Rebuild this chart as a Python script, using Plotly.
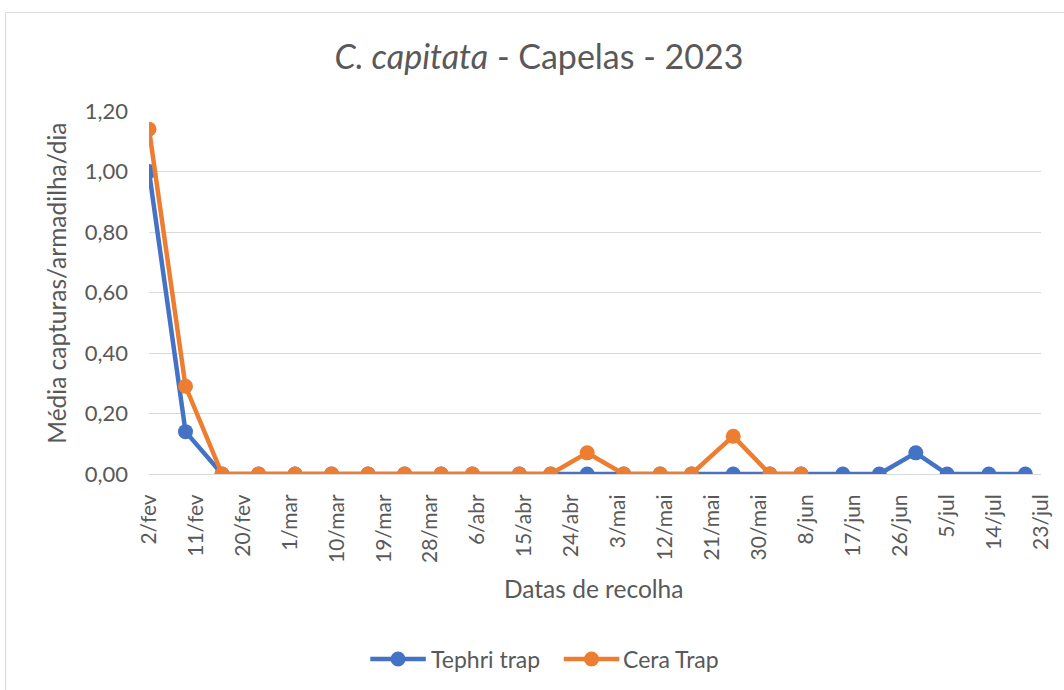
import pandas as pd
import plotly.graph_objects as go

# collection dates (2023)
dates = [
    "2023-02-02", "2023-02-09", "2023-02-16", "2023-02-23", "2023-03-02",
    "2023-03-09", "2023-03-16", "2023-03-23", "2023-03-30", "2023-04-05",
    "2023-04-14", "2023-04-20", "2023-04-27", "2023-05-04", "2023-05-11",
    "2023-05-17", "2023-05-25", "2023-06-01", "2023-06-07", "2023-06-15",
    "2023-06-22", "2023-06-29", "2023-07-05", "2023-07-13", "2023-07-20",
]
tephri = [
    1.00, 0.14, 0, 0, 0,
    0, 0, 0, 0, 0,
    0, 0, 0, 0, 0,
    0, 0, 0, 0, 0,
    0, 0.07, 0, 0, 0,
]
cera = [
    1.14, 0.29, 0, 0, 0,
    0, 0, 0, 0, 0,
    0, 0, 0.07, 0, 0,
    0, 0.125, 0, 0, None,
    None, None, None, None, None,
]
series_names = ["Tephri trap", "Cera Trap"]
series_colors = ["#4472C4", "#ED7D31"]
tick_labels = [
    "2/fev", "11/fev", "20/fev", "1/mar", "10/mar", "19/mar", "28/mar",
    "6/abr", "15/abr", "24/abr", "3/mai", "12/mai", "21/mai", "30/mai",
    "8/jun", "17/jun", "26/jun", "5/jul", "14/jul", "23/jul",
]
y_ticks = [0, 0.2, 0.4, 0.6, 0.8, 1.0, 1.2]
y_labels = ["0,00", "0,20", "0,40", "0,60", "0,80", "1,00", "1,20"]

tick_vals = pd.date_range("2023-02-02", periods=len(tick_labels), freq="9D")

FONT = "Lato"
GREY = "#595959"
W, H = 1064, 690
L, R, T, B = 149, 16, 111, 216

fig = go.Figure()
for name, ys, col in zip(series_names, [tephri, cera], series_colors):
    fig.add_trace(go.Scatter(
        x=dates, y=ys, name=name, mode="lines+markers",
        line=dict(color=col, width=4.5), marker=dict(size=15, color=col),
        connectgaps=False, showlegend=False,
    ))

pw = W - L - R
ph = H - T - B


def px_x(x):
    return (x - L) / pw


def px_y(y):
    return (H - B - y) / ph


# hand-drawn legend, Excel style (long line with centred marker)
legend_y = 659
legend_items = [(372, 428, 400, 433), (567, 623, 595, 627)]
shapes = [
    dict(type="rect", xref="paper", yref="paper",
         x0=px_x(4.5), x1=px_x(1075), y0=px_y(700), y1=px_y(12.5),
         line=dict(color="#D9D9D9", width=1), fillcolor="rgba(0,0,0,0)", layer="below"),
]
annotations = [
    dict(text="Datas de recolha", x=px_x(597), y=px_y(588),
         xref="paper", yref="paper", showarrow=False,
         font=dict(size=24.5, color=GREY), xanchor="center", yanchor="middle"),
    dict(text="Média capturas/armadilha/dia", x=px_x(55), y=px_y(283),
         xref="paper", yref="paper", showarrow=False, textangle=-90,
         font=dict(size=24.5, color=GREY), xanchor="center", yanchor="middle"),
]
for (x0, x1, xm, xt), name, col in zip(legend_items, series_names, series_colors):
    shapes.append(dict(type="line", xref="paper", yref="paper",
                       x0=px_x(x0), x1=px_x(x1), y0=px_y(legend_y), y1=px_y(legend_y),
                       line=dict(color=col, width=4.5)))
    shapes.append(dict(type="circle", xref="paper", yref="paper",
                       xsizemode="pixel", ysizemode="pixel",
                       xanchor=px_x(xm), yanchor=px_y(legend_y),
                       x0=-7.5, x1=7.5, y0=-7.5, y1=7.5,
                       line=dict(width=0), fillcolor=col))
    annotations.append(dict(text=name, x=px_x(xt), y=px_y(legend_y),
                            xref="paper", yref="paper", showarrow=False,
                            font=dict(size=23, color=GREY),
                            xanchor="left", yanchor="middle", xshift=-2))

fig.update_layout(
    width=W, height=H,
    margin=dict(l=L, r=R, t=T, b=B),
    paper_bgcolor="white", plot_bgcolor="white",
    font=dict(family=FONT, color=GREY, size=22),
    title=dict(
        text="<i>C. capitata</i> - Capelas - 2023",
        x=px_x(542), xanchor="center", xref="paper",
        y=1 - 57 / H, yanchor="middle", yref="container",
        font=dict(family=FONT, size=34, color=GREY),
    ),
    showlegend=False,
    xaxis=dict(
        type="date", range=["2023-02-02", "2023-07-23"],
        tickvals=tick_vals, ticktext=tick_labels, tickangle=-90,
        showgrid=False, showline=True, linecolor="#D9D9D9", linewidth=1,
        ticks="", zeroline=False, tickfont=dict(size=21, color=GREY),
        ticklabelstandoff=11,
    ),
    yaxis=dict(
        range=[0, 1.2], tickvals=y_ticks, ticktext=y_labels,
        showgrid=True, gridcolor="#D9D9D9", gridwidth=1,
        zeroline=False, showline=False, ticks="",
        tickfont=dict(size=22, color=GREY), ticklabelstandoff=20,
    ),
    annotations=annotations,
    shapes=shapes,
)

# drop the default page margin so the figure sits at the window origin
fig.write_html("out.html", config={"displayModeBar": False},
               post_script="document.body.style.margin='0';")
